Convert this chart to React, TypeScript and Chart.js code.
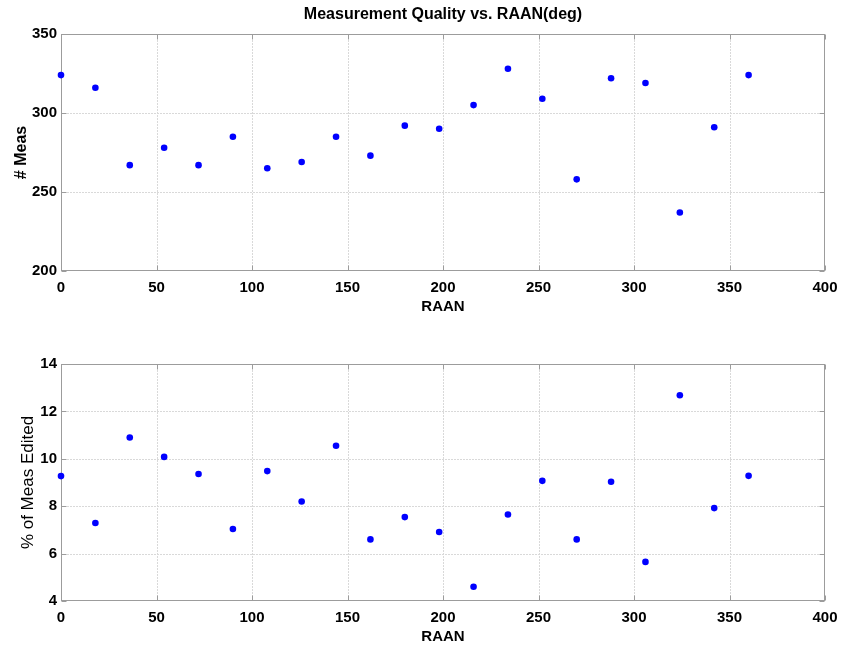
import React, { useEffect, useRef } from 'react';
import { Chart, registerables } from 'chart.js';

Chart.register(...registerables);

// ---- data ----
const raan = [0, 18, 36, 54, 72, 90, 108, 126, 144, 162, 180, 198, 216, 234, 252, 270, 288, 306, 324, 342, 360];
const measCount = [324, 316, 267, 278, 267, 285, 265, 269, 285, 273, 292, 290, 305, 328, 309, 258, 322, 319, 237, 291, 324];
const pctEdited = [9.27, 7.29, 10.9, 10.08, 9.36, 7.04, 9.48, 8.2, 10.55, 6.6, 7.54, 6.91, 4.6, 7.65, 9.07, 6.6, 9.03, 5.65, 12.68, 7.92, 9.28];
const xRange = [0, 400];
const xStep = 50;
const topYRange = [200, 350];
const topYStep = 50;
const botYRange = [4, 14];
const botYStep = 2;
const chartTitle = 'Measurement Quality vs. RAAN(deg)';
const xLabel = 'RAAN';
const topYLabel = '# Meas';
const botYLabel = '% of Meas Edited';

const FONT = '"Liberation Sans", Arial, Helvetica, sans-serif';
const W = 842;

const framePlugin = {
  id: 'matlabFrame',
  beforeDatasetsDraw(chart: any) {
    const { ctx, chartArea, scales } = chart;
    const { left, right, top, bottom } = chartArea;
    const xs = scales.x;
    const ys = scales.y;
    ctx.save();
    // dotted grid
    ctx.strokeStyle = '#d9d9d9';
    ctx.lineWidth = 1;
    ctx.setLineDash([2, 1]);
    xs.ticks.forEach((t: any) => {
      const px = Math.round(xs.getPixelForValue(t.value)) + 0.5;
      if (px <= left + 1 || px >= right - 1) return;
      ctx.beginPath();
      ctx.moveTo(px, top);
      ctx.lineTo(px, bottom);
      ctx.stroke();
    });
    ys.ticks.forEach((t: any) => {
      const py = Math.round(ys.getPixelForValue(t.value)) + 0.5;
      if (py <= top + 1 || py >= bottom - 1) return;
      ctx.beginPath();
      ctx.moveTo(left, py);
      ctx.lineTo(right, py);
      ctx.stroke();
    });
    ctx.setLineDash([]);
    // box
    ctx.strokeStyle = '#9c9c9c';
    const l = Math.round(left) + 0.5;
    const r = Math.round(right) - 0.5;
    const t0 = Math.round(top) + 0.5;
    const b = Math.round(bottom) - 0.5;
    ctx.strokeRect(l, t0, r - l, b - t0);
    // inward ticks
    const len = 5;
    ctx.beginPath();
    xs.ticks.forEach((t: any) => {
      const px = Math.round(xs.getPixelForValue(t.value)) + 0.5;
      ctx.moveTo(px, b);
      ctx.lineTo(px, b - len);
      ctx.moveTo(px, t0);
      ctx.lineTo(px, t0 + len);
    });
    ys.ticks.forEach((t: any) => {
      const py = Math.round(ys.getPixelForValue(t.value)) + 0.5;
      ctx.moveTo(l, py);
      ctx.lineTo(l + len, py);
      ctx.moveTo(r, py);
      ctx.lineTo(r - len, py);
    });
    ctx.stroke();
    ctx.restore();
  },
  afterDraw(chart: any) {
    const opts = chart.options.plugins.matlabFrame || {};
    if (!opts.title) return;
    const { ctx, chartArea } = chart;
    ctx.save();
    ctx.fillStyle = '#000';
    ctx.font = 'bold 16px ' + FONT;
    ctx.textAlign = 'center';
    ctx.textBaseline = 'middle';
    ctx.fillText(opts.title, (chartArea.left + chartArea.right) / 2, opts.titleY);
    ctx.restore();
  },
};

function makeConfig(
  values: number[],
  yRange: number[],
  yStep: number,
  yLabel: string,
  yLabelBold: boolean,
  yLabelSize: number,
  yTitlePad: number,
  topPad: number,
  title?: string
): any {
  return {
    type: 'scatter',
    data: {
      datasets: [
        {
          data: raan.map((x, i) => ({ x, y: values[i] })),
          backgroundColor: '#0000ff',
          borderColor: '#0000ff',
          borderWidth: 0,
          pointRadius: 3.3,
          pointHoverRadius: 3.3,
          showLine: false,
          clip: false,
        },
      ],
    },
    options: {
      responsive: false,
      animation: false,
      events: [],
      layout: { padding: { top: topPad, right: 17, bottom: 0, left: 0 } },
      plugins: {
        legend: { display: false },
        tooltip: { enabled: false },
        title: { display: false },
        matlabFrame: { title, titleY: 15 },
      },
      scales: {
        x: {
          type: 'linear',
          min: xRange[0],
          max: xRange[1],
          grid: { display: false, drawTicks: false, tickLength: 0 },
          border: { display: false },
          ticks: {
            stepSize: xStep,
            color: '#000',
            padding: 8,
            font: { family: FONT, size: 15, weight: 'bold' },
          },
          title: {
            display: true,
            text: xLabel,
            color: '#000',
            padding: { top: 0, bottom: 1 },
            font: { family: FONT, size: 15, weight: 'bold' },
          },
          afterFit(s: any) {
            s.height = 46;
            s.paddingLeft = 0;
            s.paddingRight = 0;
          },
        },
        y: {
          type: 'linear',
          min: yRange[0],
          max: yRange[1],
          grid: { display: false, drawTicks: false, tickLength: 0 },
          border: { display: false },
          ticks: {
            stepSize: yStep,
            color: '#000',
            padding: 4,
            font: { family: FONT, size: 15, weight: 'bold' },
          },
          title: {
            display: true,
            text: yLabel,
            color: '#000',
            padding: { top: yTitlePad, bottom: 0 },
            font: { family: FONT, size: yLabelSize, weight: yLabelBold ? 'bold' : 'normal' },
          },
          afterFit(s: any) {
            s.width = 61;
            s.paddingTop = 0;
            s.paddingBottom = 0;
          },
        },
      },
    },
    plugins: [framePlugin],
  };
}

export default function App() {
  const topRef = useRef<HTMLCanvasElement>(null);
  const botRef = useRef<HTMLCanvasElement>(null);

  useEffect(() => {
    const c1 = new Chart(
      topRef.current as HTMLCanvasElement,
      makeConfig(measCount, topYRange, topYStep, topYLabel, true, 16, 12, 34, chartTitle)
    );
    const c2 = new Chart(
      botRef.current as HTMLCanvasElement,
      makeConfig(pctEdited, botYRange, botYStep, botYLabel, false, 17, 18.5, 47)
    );
    return () => {
      c1.destroy();
      c2.destroy();
    };
  }, []);

  return (
    <div style={{ position: 'absolute', left: 0, top: 0, width: W, height: 647, background: '#fff' }}>
      <canvas ref={topRef} width={W} height={317} style={{ display: 'block', width: W, height: 317 }} />
      <canvas ref={botRef} width={W} height={330} style={{ display: 'block', width: W, height: 330 }} />
    </div>
  );
}
